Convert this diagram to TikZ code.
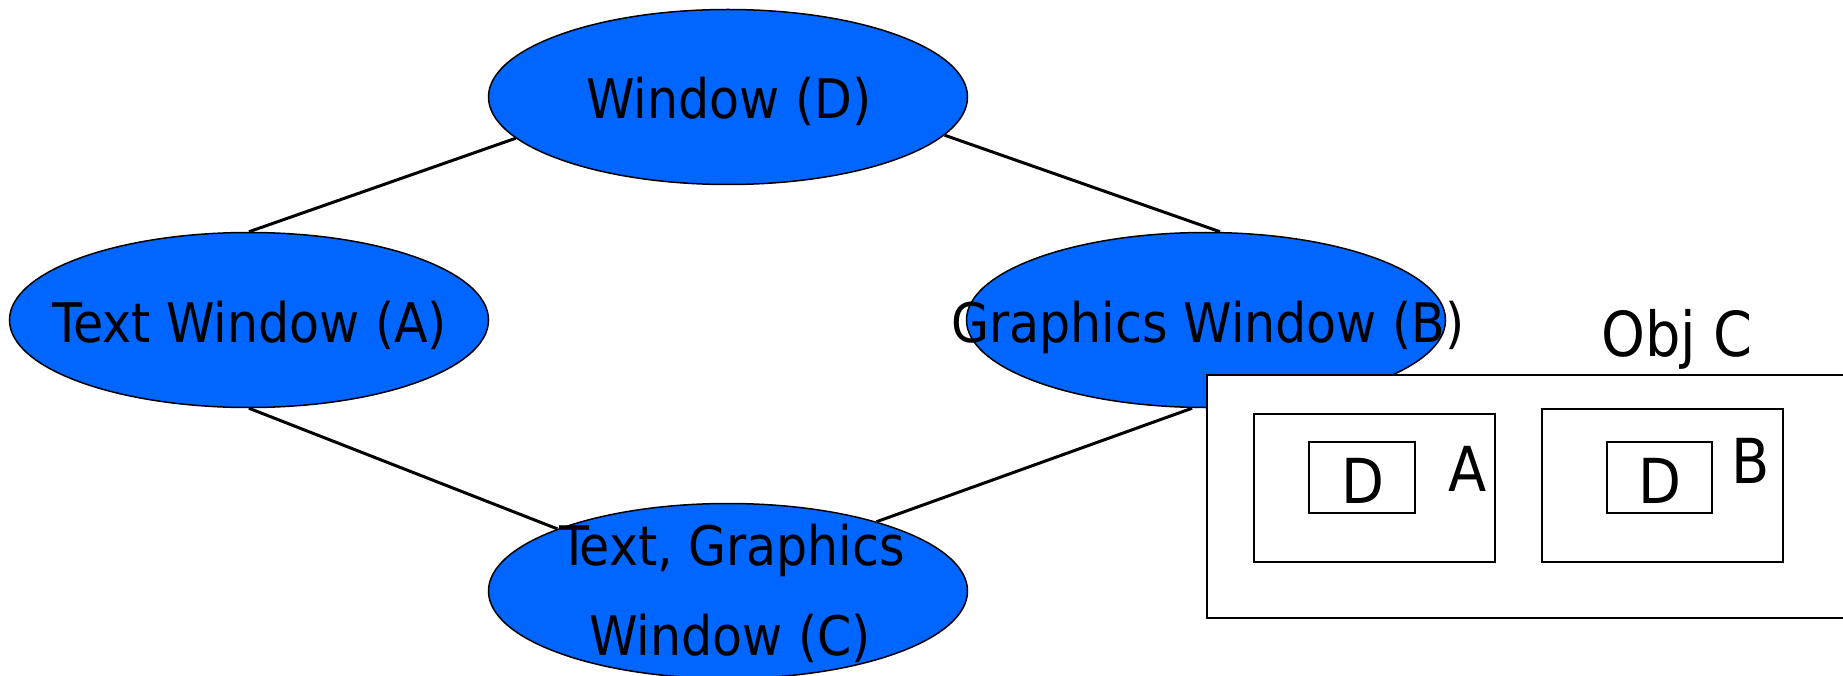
\documentclass[tikz,border=0pt]{standalone}
\usepackage{fontspec}
\setmainfont{DejaVu Sans Condensed}
\usetikzlibrary{shapes.geometric}
\definecolor{winblue}{RGB}{0,102,255}
\tikzset{
  winshape/.style={ellipse, draw=black, line width=1.5pt, fill=winblue,
    minimum width=479pt, minimum height=175pt, inner sep=0pt},
  wintext/.style={anchor=base, inner sep=0pt, font=\fontsize{54.5}{60}\selectfont},
  link/.style={draw=black, line width=3pt},
  objbox/.style={draw=black, line width=2pt, fill=white, inner sep=0pt},
  objtext/.style={anchor=base, inner sep=0pt, font=\fontsize{62}{70}\selectfont}
}
\begin{document}
\begin{tikzpicture}[x=1pt, y=-1pt]
\useasboundingbox (0,0) rectangle (1843,676);
\clip (0,0) rectangle (1843,676);

% class hierarchy ellipses
\node[winshape] (D) at (728,97) {};
\node[winshape] (A) at (249,320) {};
\node[winshape] (B) at (1206,320) {};
\node[winshape] (C) at (728,591) {};

% inheritance links
\draw[link] (A.north) -- (D.191);
\draw[link] (D.350) -- ([xshift=14pt]B.north);
\draw[link] (A.south) -- (C.160);
\draw[link] ([xshift=-14pt]B.south) -- (C.25);

% labels
\node[wintext] (Dtext) at (729,119) {Window (D)};
\node[wintext] (Atext) at (250,342) {Text Window (A)};
\node[wintext] (Btext) at (1208,342) {Graphics Window (B)};
\node[wintext] (Ctext1) at (732,565) {Text, Graphics};
\node[wintext] (Ctext2) at (730,655) {Window (C)};

% object layout of C
\node[objtext] (objC) at (1677,356) {Obj C};
\path[objbox] (1207,375) rectangle (1860,618);
\node[objbox, minimum width=241pt, minimum height=148pt] (subA) at (1374.5,488) {};
\node[objbox, minimum width=241pt, minimum height=153pt] (subB) at (1662.5,485.5) {};
\node[objbox, minimum width=106pt, minimum height=71pt] (dA) at (1362,477.5) {};
\node[objbox, minimum width=105pt, minimum height=71pt] (dB) at (1659.5,477.5) {};
\node[objtext] (dAtext) at (1363,503) {D};
\node[objtext] (dBtext) at (1660,503) {D};
\node[objtext] (aText) at (1468,491) {A};
\node[objtext] (bText) at (1751,483) {B};
\end{tikzpicture}
\end{document}
